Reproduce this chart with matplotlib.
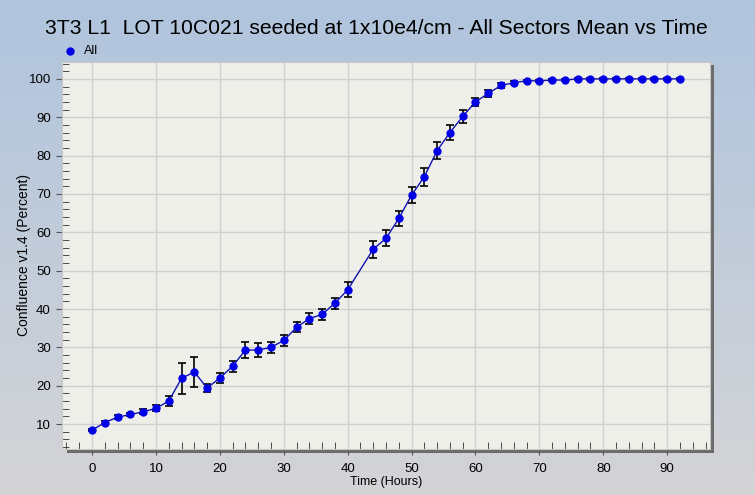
import numpy as np
import matplotlib

matplotlib.use("Agg")
import matplotlib.pyplot as plt
from matplotlib.patches import Rectangle
from matplotlib.ticker import MultipleLocator

plt.rcParams["font.family"] = ["Liberation Sans", "DejaVu Sans"]

TITLE = "3T3 L1  LOT 10C021 seeded at 1x10e4/cm - All Sectors Mean vs Time"

hours = [0, 2, 4, 6, 8, 10, 12, 14, 16, 18, 20, 22, 24, 26, 28, 30, 32, 34, 36, 38, 40,
         44, 46, 48, 50, 52, 54, 56, 58, 60, 62, 64, 66, 68, 70, 72, 74, 76, 78, 80,
         82, 84, 86, 88, 90, 92]
confluence = [8.4, 10.4, 11.8, 12.5, 13.2, 14.1, 16.0, 21.9, 23.6, 19.4, 22.0, 25.1,
              29.3, 29.3, 30.0, 31.8, 35.2, 37.5, 38.6, 41.5, 45.0,
              55.6, 58.4, 63.6, 69.7, 74.5, 81.3, 86.0, 90.2, 94.0, 96.2, 98.3, 99.0,
              99.5, 99.5, 99.7, 99.7, 100.0, 100.0, 100.0, 100.0, 100.0, 100.0, 100.0,
              100.0, 100.0]
error = [0.3, 0.4, 0.5, 0.5, 0.6, 0.8, 1.2, 4.1, 3.9, 1.1, 1.4, 1.4,
         2.2, 1.9, 1.4, 1.4, 1.3, 1.5, 1.4, 1.4, 2.0,
         2.2, 2.1, 2.0, 2.1, 2.3, 2.3, 1.9, 1.8, 1.0, 1.0, 0.7, 0.4,
         0.3, 0.3, 0.2, 0.2, 0.2, 0.2, 0.2, 0.2, 0.2, 0.2, 0.2, 0.2, 0.2]

W, H = 755, 495
fig = plt.figure(figsize=(W / 100, H / 100), dpi=100)

# background gradient (steel blue -> light grey)
bg = fig.add_axes([0, 0, 1, 1], zorder=-10)
top = np.array([0.69, 0.77, 0.87])
bot = np.array([0.83, 0.83, 0.84])
t = np.linspace(0, 1, 256)[:, None]
grad = top[None, :] * (1 - t) + bot[None, :] * t
bg.imshow(grad[:, None, :], aspect="auto", extent=[0, 1, 0, 1])
bg.axis("off")


def px(x0, y0, x1, y1):
    return [x0 / W, 1 - y1 / H, (x1 - x0) / W, (y1 - y0) / H]


# drop shadow of plot frame
for x0, y0, x1, y1 in [(710, 65, 714, 453), (67, 449, 714, 453)]:
    r = px(x0, y0, x1, y1)
    fig.patches.append(Rectangle((r[0], r[1]), r[2], r[3], transform=fig.transFigure,
                                 facecolor="#6b6b6b", edgecolor="none", zorder=-5))

ax = fig.add_axes(px(62, 62, 710, 449))
ax.set_facecolor("#efefea")

ax.plot(hours, confluence, color="#1010b0", lw=1, zorder=3)
ax.errorbar(hours, confluence, yerr=error, fmt="none", ecolor="black",
            elinewidth=1.2, capsize=2.6, capthick=1.2, zorder=2)
ax.plot(hours, confluence, "o", color="#0000e6", markersize=5, zorder=4)

ax.set_xlim(-4.7, 96.7)
ax.set_ylim(3.5, 104.4)
ax.xaxis.set_major_locator(MultipleLocator(10))
ax.xaxis.set_minor_locator(MultipleLocator(2))
ax.yaxis.set_major_locator(MultipleLocator(10))
ax.yaxis.set_minor_locator(MultipleLocator(2))
ax.grid(True, which="major", color="#cfcfcf", lw=1)
ax.set_axisbelow(True)

ax.tick_params(which="major", direction="out", length=4, color="#555555",
               labelsize=9.5, pad=4)
ax.tick_params(which="minor", direction="in", length=5, color="#333333")
ax.tick_params(axis="x", which="major", pad=6)
for s in ax.spines.values():
    s.set_color("#c8c8c8")
    s.set_linewidth(0.8)

ax.set_xlabel("Time (Hours)", fontsize=9, labelpad=1)
ax.set_ylabel("Confluence v1.4 (Percent)", fontsize=10, labelpad=-2)

fig.text(376 / W, 1 - 28 / H, TITLE, ha="center", va="center", fontsize=15.2)

# legend
fig.lines.append(plt.Line2D([70 / W], [1 - 51 / H], marker="o", color="#0000e6",
                            markersize=5, transform=fig.transFigure))
fig.text(84 / W, 1 - 51 / H, "All", ha="left", va="center", fontsize=9)

fig.savefig("out.png", dpi=100)
